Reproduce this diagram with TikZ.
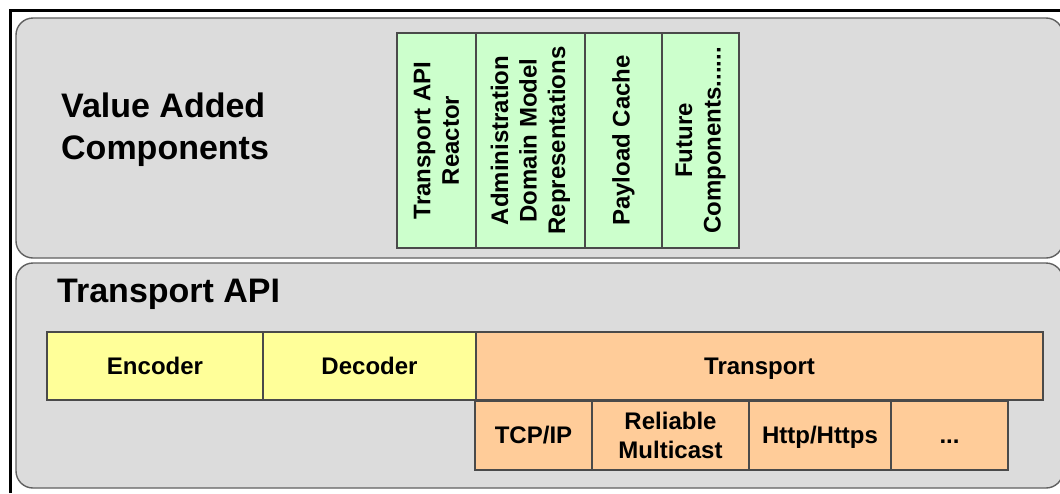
\documentclass[tikz,border=0pt]{standalone}
\usepackage{fontspec}
\setmainfont{Liberation Sans}
\definecolor{panelgray}{HTML}{DCDCDC}
\definecolor{panelline}{HTML}{606060}
\definecolor{boxline}{HTML}{4A4A4A}
\definecolor{vagreen}{HTML}{CCFFCC}
\definecolor{codyellow}{HTML}{FFFF99}
\definecolor{trorange}{HTML}{FFCC99}
\tikzset{
  panel/.style={draw=panelline, fill=panelgray, line width=1.4pt, rounded corners=17pt},
  cell/.style={draw=boxline, line width=1.1pt, inner sep=0pt, align=center,
    font=\bfseries\fontsize{24}{28.5}\selectfont},
  oneline/.style={text height=19pt, text depth=3pt},
  vcell/.style={cell, fill=vagreen, rotate=90, minimum width=215pt},
  heading/.style={inner sep=0pt, align=left, font=\bfseries\fontsize{34}{42}\selectfont}
}
\begin{document}
\begin{tikzpicture}[x=1pt,y=-1pt]
\useasboundingbox (0,0) rectangle (1060,493);
\fill[white] (0,0) rectangle (1060,493);
% outer black frame (clipped at right and bottom)
\draw[line width=3pt] (10.5,493) -- (10.5,10) -- (1060,10);
% panels
\draw[panel] (16,18) rectangle (1063,258);
\draw[panel] (16,263) rectangle (1063,488);
% headings
\node[heading, anchor=north west] (vac) at (61,93) {Value Added\\Components};
\node[heading, anchor=base west] (tapi) at (57,302) {Transport API};
% value added components
\node[vcell, minimum height=79pt] (reactor) at (436.5,140.5) {Transport API\\Reactor};
\node[vcell, minimum height=109pt] (admin) at (530.5,140.5) {Administration\\Domain Model\\Representations};
\node[vcell, minimum height=77pt] (cache) at (623.5,140.5) {Payload Cache};
\node[vcell, minimum height=77pt] (future) at (700.5,140.5) {Future\\Components......};
% transport api row
\node[cell, oneline, fill=codyellow, minimum width=216pt, minimum height=68pt] (enc) at (155,366) {Encoder};
\node[cell, oneline, fill=codyellow, minimum width=213pt, minimum height=68pt] (dec) at (369.5,366) {Decoder};
\node[cell, oneline, fill=trorange, minimum width=567pt, minimum height=68pt] (tr) at (759.5,366) {Transport};
% transports
\node[cell, oneline, fill=trorange, minimum width=117pt, minimum height=69pt] (tcp) at (533.5,435.5) {TCP/IP};
\node[cell, fill=trorange, minimum width=157pt, minimum height=69pt] (rm) at (670.5,435.5) {Reliable\\Multicast};
\node[cell, oneline, fill=trorange, minimum width=142pt, minimum height=69pt] (http) at (820,435.5) {Http/Https};
\node[cell, oneline, fill=trorange, minimum width=117pt, minimum height=69pt] (more) at (949.5,435.5) {...};
\end{tikzpicture}
\end{document}
